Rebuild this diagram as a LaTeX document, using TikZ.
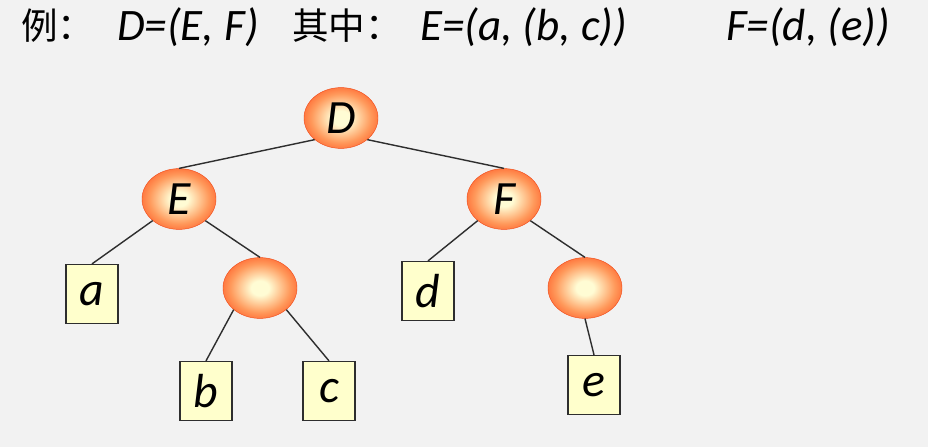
\documentclass[tikz,border=0pt]{standalone}
\usepackage{fontspec}
\setmainfont{Carlito}
\newfontfamily\cjkfont{Noto Sans CJK SC}
\usetikzlibrary{positioning,shapes.geometric}
\definecolor{bggrey}   {HTML}{F2F2F2}
\definecolor{orange500}{HTML}{FF4F1C}
\definecolor{orange300}{HTML}{FF9A5C}
\definecolor{orange600}{HTML}{F04A18}
\definecolor{cream100} {HTML}{FFFCD4}
\definecolor{cream200} {HTML}{FFFFCC}
\definecolor{grey800}  {HTML}{2E2E2E}
\pgfdeclareradialshading{glow}{\pgfpoint{0bp}{0bp}}{%
  color(0bp)=(cream100); color(6bp)=(cream100); color(20bp)=(orange300);
  color(32bp)=(orange500); color(50bp)=(orange500)}
\tikzset{
  inode/.style ={ellipse, minimum width=1.85cm, minimum height=1.52cm,
                 inner sep=0pt, draw=orange600, line width=0.3pt,
                 shading=glow,
                 font=\itshape\fontsize{34}{36}\selectfont},
  leaf/.style  ={rectangle, draw=grey800, line width=1pt, fill=cream200,
                 minimum width=1.3cm, minimum height=1.47cm, inner sep=0pt,
                 font=\itshape\fontsize{34}{36}\selectfont},
  link/.style  ={draw=grey800, line width=1pt},
  head/.style  ={anchor=base west, inner sep=0pt,
                 font=\itshape\fontsize{32}{34}\selectfont},
  headc/.style ={anchor=base west, inner sep=0pt,
                 font=\cjkfont\fontsize{26}{28}\selectfont}
}
\begin{document}
\begin{tikzpicture}[x=0.025cm, y=-0.025cm]
\fill[bggrey] (0,0) rectangle (928,447);
\useasboundingbox (0,0) rectangle (928,447);

% the list and its two sublists
\node[headc] (ex)    at (21,39)  {例：};
\node[head]  (listd) at (117,40) {D=(E, F)};
\node[headc] (where) at (292,39) {其中：};
\node[head]  (liste) at (420,40) {E=(a, (b, c))};
\node[head]  (listf) at (726,40) {F=(d, (e))};

\node[inode] (d)   at (341,118) {D};
\node[inode] (e)   at (179,199) {E};
\node[inode] (f)   at (504,199) {F};
\node[inode] (ebc) at (260,288) {};
\node[inode] (fe)  at (585,288) {};

\node[leaf] (la) at (92,294)  {a};
\node[leaf] (lb) at (206,391) {b};
\node[leaf] (lc) at (329,391) {c};
\node[leaf] (ld) at (428,291) {d};
\node[leaf] (le) at (594,385) {e};

\draw[link] (d.south west)   -- (e.north);
\draw[link] (d.south east)   -- (f.north);
\draw[link] (e.south west)   -- (la.north);
\draw[link] (e.south east)   -- (ebc.north);
\draw[link] (ebc.south west) -- (lb.north);
\draw[link] (ebc.south east) -- (lc.north);
\draw[link] (f.south west)   -- (ld.north);
\draw[link] (f.south east)   -- (fe.north);
\draw[link] (fe.south)       -- (le.north);
\end{tikzpicture}
\end{document}
